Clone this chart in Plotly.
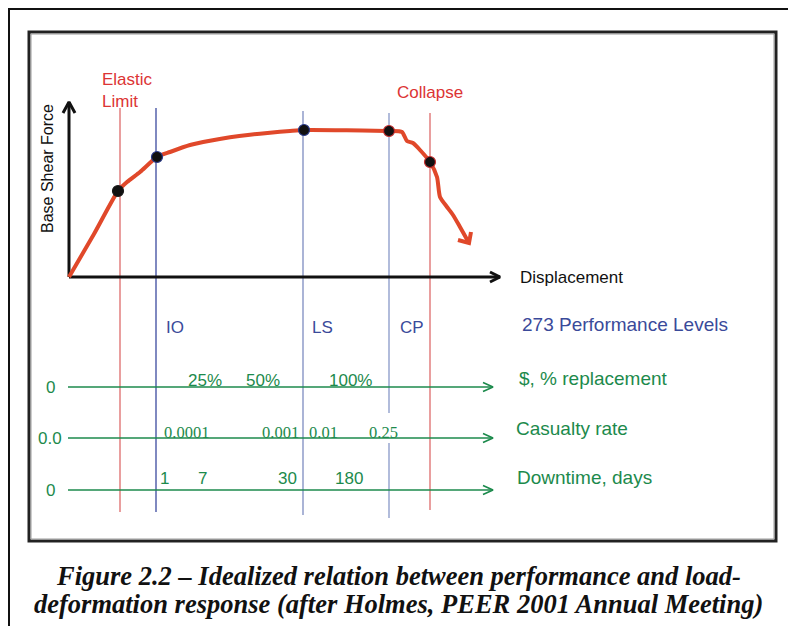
import plotly.graph_objects as go

# ---- data (displacement / force units; origin of the capacity curve at 0,0) ----
CURVE_DISP = [0, 25, 49, 58, 71, 88, 101, 121, 141, 161, 181, 201, 221, 235, 320, 333, 338, 344, 351, 361, 368, 371, 378, 384, 391, 400]
CURVE_FORCE = [0, 43, 86, 95, 105, 120, 125, 132, 136.3, 139.7, 142.3, 144.3, 146, 147, 146, 145, 136, 134, 127, 115, 100, 80, 70, 62, 50, 34]
ARROW_HEAD_DISP = [389, 400, 402]
ARROW_HEAD_FORCE = [37, 34, 45]

DOT_DISP = [49, 88, 235, 320, 361]
DOT_FORCE = [86, 120, 147, 146, 115]
DOT_EDGE = ["#1a1a1a", "#2a3a8a", "#2a3a8a", "#c83030", "#c83030"]

LEVEL_NAMES = ["Elastic Limit", "IO", "LS", "CP", "Collapse"]
LEVEL_DISP = [51, 87, 234, 320, 361]
LEVEL_TOP = [169, 169, 166, 164, 164]
LEVEL_BOTTOM = [-235, -235, -238, -241, -233]
LEVEL_COLOR = ["#dd6a6a", "#3b4a9e", "#7d8cc0", "#8898c8", "#dd6a6a"]

PERF_LABELS = ["IO", "LS", "CP"]
PERF_DISP = [95, 241, 329]

ROW_NAMES = ["$, % replacement", "Casualty rate", "Downtime, days"]
ROW_ZERO = ["0", "0.0", "0"]
ROW_LEVEL = [-110, -161, -213]

COST_LABELS = ["25%", "50%", "100%"]
COST_DISP = [136, 194, 281]
CASUALTY_LABELS = ["0.0001", "0.001", "0.01", "0.25"]
CASUALTY_DISP = [117, 211, 254, 314]
DOWNTIME_LABELS = ["1", "7", "30", "180"]
DOWNTIME_DISP = [95, 133, 218, 280]

SANS = "Liberation Sans, Arial, sans-serif"
SERIF = "Liberation Serif, Times New Roman, serif"
RED_TXT = "#dc3434"
BLUE_TXT = "#3a4a9a"
GREEN = "#1c8a4c"
CURVE_COLOR = "#e0482a"

fig = go.Figure()

# frames
fig.add_shape(type="rect", x0=-60, y0=268, x1=760, y1=-380, line=dict(color="#111", width=2))
fig.add_shape(type="rect", x0=-40, y0=245, x1=707, y1=-264, line=dict(color="#222", width=3))
fig.add_shape(type="rect", x0=-38, y0=243, x1=705, y1=-262, line=dict(color="#9a9a9a", width=1))

# vertical performance-level lines
for i, xv in enumerate(LEVEL_DISP):
    if LEVEL_NAMES[i] == "CP":
        xs = [xv, xv, None, xv, xv]
        ys = [LEVEL_TOP[i], -136, None, -166, LEVEL_BOTTOM[i]]
    else:
        xs = [xv, xv]
        ys = [LEVEL_TOP[i], LEVEL_BOTTOM[i]]
    fig.add_trace(go.Scatter(x=xs, y=ys, mode="lines",
                             line=dict(color=LEVEL_COLOR[i], width=1.3), hoverinfo="skip"))

# axes with arrows
fig.add_trace(go.Scatter(x=[0, 0, None, -6, 0, 6], y=[0, 175, None, 164, 175, 164], mode="lines",
                         line=dict(color="#111", width=3), hoverinfo="skip"))
fig.add_trace(go.Scatter(x=[0, 431, None, 421, 431, 421], y=[0, 0, None, 5, 0, -5], mode="lines",
                         line=dict(color="#111", width=3), hoverinfo="skip"))

# capacity curve
fig.add_trace(go.Scatter(x=CURVE_DISP, y=CURVE_FORCE, mode="lines",
                         line=dict(color=CURVE_COLOR, width=4, shape="spline", smoothing=0.6),
                         hoverinfo="skip"))
fig.add_trace(go.Scatter(x=ARROW_HEAD_DISP, y=ARROW_HEAD_FORCE, mode="lines",
                         line=dict(color=CURVE_COLOR, width=4), hoverinfo="skip"))
fig.add_trace(go.Scatter(x=DOT_DISP, y=DOT_FORCE, mode="markers",
                         marker=dict(color="#111", size=11, line=dict(color=DOT_EDGE, width=1.2)),
                         hoverinfo="skip"))

# green consequence rows
for lvl in ROW_LEVEL:
    fig.add_trace(go.Scatter(x=[-1, 424, None, 414, 424, 414], y=[lvl, lvl, None, lvl + 4.5, lvl, lvl - 4.5],
                             mode="lines", line=dict(color=GREEN, width=1.6), hoverinfo="skip"))

ann = []
def txt(x, y, t, size, color, family=SANS, xanchor="left", **kw):
    ann.append(dict(x=x, y=y, text=t, showarrow=False, xanchor=xanchor, yanchor="middle",
                    font=dict(size=size, color=color, family=family), **kw))

txt(31, 187, "Elastic<br>Limit", 17, RED_TXT, align="left")
txt(326, 185, "Collapse", 17, RED_TXT)
txt(-22, 108, "Base Shear Force", 16, "#111", xanchor="center", textangle=-90)
txt(449, 0, "Displacement", 17, "#111")
for lab, xv in zip(PERF_LABELS, PERF_DISP):
    txt(xv, -50, lab, 17, BLUE_TXT)
txt(451, -47, "273 Performance Levels", 19, BLUE_TXT)

for z, lvl, name in zip(ROW_ZERO, ROW_LEVEL, ROW_NAMES):
    txt(-19, lvl, z, 17, GREEN, xanchor="center")
for lab, xv in zip(COST_LABELS, COST_DISP):
    txt(xv, -103, lab, 17, GREEN, xanchor="center")
for lab, xv in zip(CASUALTY_LABELS, CASUALTY_DISP):
    txt(xv, -155, lab, 16.5, GREEN, family=SERIF, xanchor="center")
for lab, xv in zip(DOWNTIME_LABELS, DOWNTIME_DISP):
    txt(xv, -201, lab, 17, GREEN, xanchor="center")
txt(448, -101, ROW_NAMES[0], 19, GREEN)
txt(445, -151, ROW_NAMES[1], 19, GREEN)
txt(446, -200, ROW_NAMES[2], 19, GREEN)

cap_font = dict(size=26.5, color="#111", family=SERIF, weight="bold", style="italic")
ann.append(dict(x=329, y=-299, text="Figure 2.2 – Idealized relation between performance and load-",
                showarrow=False, xanchor="center", yanchor="middle", font=cap_font))
ann.append(dict(x=329, y=-327, text="deformation response (after Holmes, PEER 2001 Annual Meeting)",
                showarrow=False, xanchor="center", yanchor="middle", font=cap_font))

fig.update_layout(
    width=796, height=626, margin=dict(l=0, r=0, t=0, b=0),
    paper_bgcolor="white", plot_bgcolor="white", showlegend=False,
    xaxis=dict(range=[-61, 735], visible=False, fixedrange=True),
    yaxis=dict(range=[-357, 269], visible=False, fixedrange=True),
    annotations=ann,
)

fig.write_html("out.html")
